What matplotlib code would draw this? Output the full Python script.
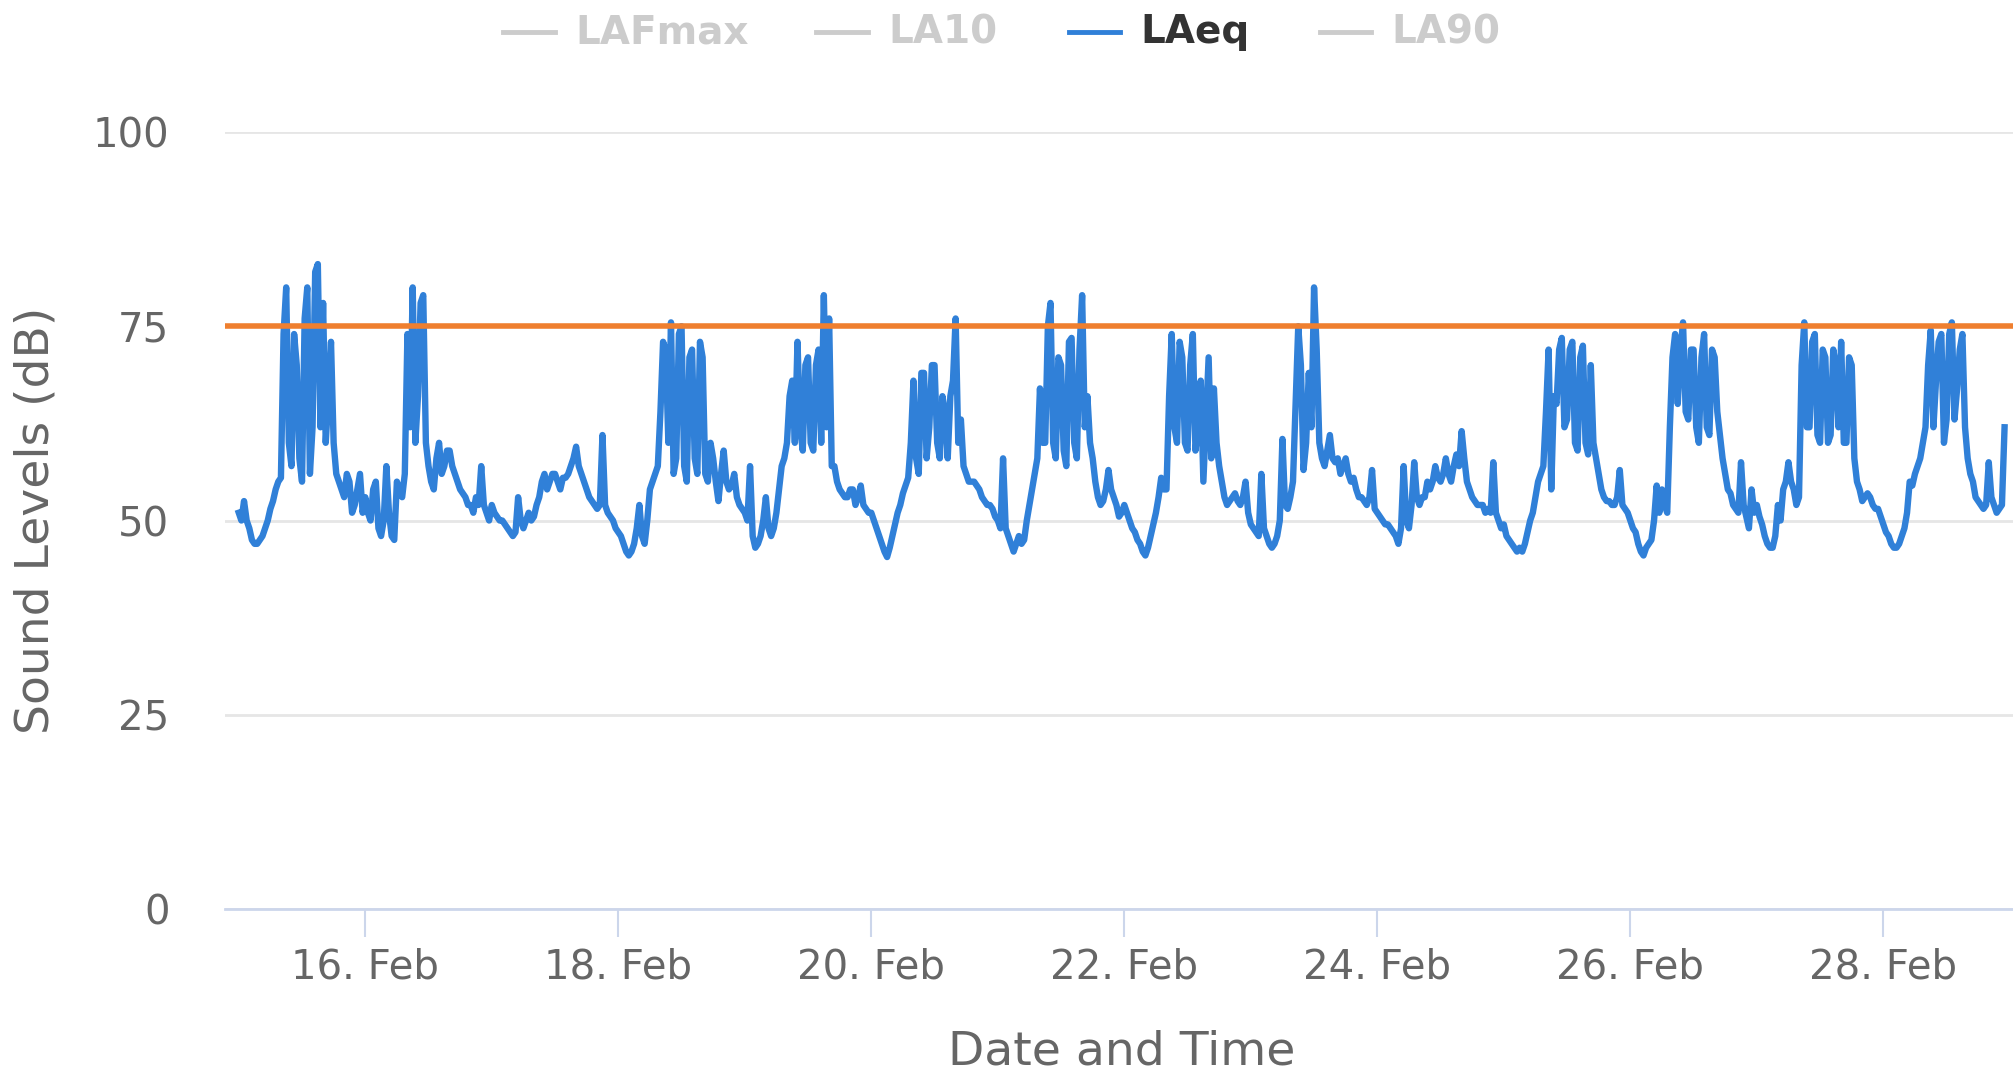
import matplotlib
matplotlib.use("Agg")
import matplotlib.pyplot as plt
import matplotlib.dates as mdates
from matplotlib.lines import Line2D
import pandas as pd

# LAeq values (dB), per day: on the hour and at half past
feb15 = [51, 52.5, 49, 47, 47.5, 49, 51.5, 54, 55.5, 80, 57, 70, 55, 80, 62, 83, 78, 66, 60, 55, 53, 55, 52, 56]
feb15_30 = [50, 50, 47.5, 47, 48, 50, 52.5, 55, 74, 60, 74, 58, 76, 56, 82, 62, 60, 73, 56, 54, 56, 51, 54, 51]
feb16 = [53, 50, 55, 48, 57, 48, 55, 53, 74, 80, 66, 79, 57, 54, 60, 57, 59, 56, 54, 53, 52, 53, 57, 51]
feb16_30 = [51, 54, 49, 50, 51, 47.5, 54, 56, 62, 60, 78, 60, 55, 58, 56, 59, 57, 55, 53.5, 52, 51, 52, 52, 50]
feb17 = [52, 50.5, 50, 49, 48, 53, 49, 51, 50.5, 53, 56, 55, 56, 54, 55.5, 57, 59.5, 56, 54, 52.5, 51.5, 61, 51, 50]
feb17_30 = [51, 50, 49.5, 48.5, 48.5, 50, 50, 50, 52, 55, 54, 56, 55, 55.5, 56, 58, 57, 55, 53, 52, 52, 52, 50.5, 49]
feb18 = [48.5, 47, 45.5, 47, 52, 47, 54, 56, 64, 72, 75.5, 58, 75, 55, 72, 56, 71, 55, 58, 52.5, 59, 54, 56, 52]
feb18_30 = [48, 46, 46, 49, 48, 50, 55, 57, 73, 60, 56, 74, 57, 71, 58, 73, 56, 60, 55, 56, 55, 54.5, 53, 51.5]
feb19 = [51, 57, 46.5, 48, 53, 48, 51, 57, 60, 68, 73, 59, 71, 59, 72, 79, 76, 57, 54, 53, 54, 52, 54.5, 51.5]
feb19_30 = [50, 48, 47, 50, 49, 49, 54, 58, 66, 60, 62, 70, 60, 70, 60, 62, 57, 55, 53.5, 53, 54, 53, 52, 51]
feb20 = [51, 49, 47, 45.3, 48, 51, 53.5, 55.5, 68, 56, 69, 62, 70, 58, 64, 66, 76, 63, 56, 55, 54.5, 53, 52, 51.5]
feb20_30 = [50, 48, 46, 46.5, 49.5, 52, 54.5, 60, 58, 69, 58, 70, 60, 66, 58, 68, 60, 57, 55, 55, 54, 52.5, 52, 50.5]
feb21 = [50, 58, 48, 46, 48, 47.5, 52, 56, 67, 60, 78, 58, 70, 57, 73.5, 58, 79, 66, 58, 53, 52.5, 56.5, 53, 50.5]
feb21_30 = [49, 49, 47, 47, 47, 50, 54, 58, 60, 75, 60, 71, 59, 73, 60, 72, 62, 60, 55, 52, 54, 54, 52, 51]
feb22 = [52, 50, 48.5, 47, 45.5, 48, 51, 55.5, 54, 74, 60, 71, 59, 74, 62, 55, 71, 67, 57, 53, 52.5, 53.5, 52, 55]
feb22_30 = [51, 49, 47.5, 46, 46.5, 49.5, 53, 54, 66, 62, 73, 60, 70, 59, 68, 63, 58, 60, 55, 52, 53, 52.5, 53, 51]
feb23 = [49.5, 48.5, 56, 48, 46.5, 48, 60.5, 51.5, 55, 75, 56.5, 69, 80, 60, 57, 61, 57.5, 56, 58, 55, 54, 53, 52, 56.5]
feb23_30 = [49, 48, 49, 47, 47, 50, 52, 53, 65, 70, 60, 62, 72, 58, 59, 58, 58, 57, 56, 55.5, 53, 52.5, 53, 51.5]
feb24 = [51, 50, 49.5, 48.5, 47, 57, 49, 57.5, 52, 53, 54, 57, 55, 58, 55, 58.5, 61.5, 55, 53, 52, 52, 51.5, 57.5, 50]
feb24_30 = [50.5, 49.5, 49, 48, 49, 50, 52, 53, 53, 55, 55, 55.5, 56, 56, 57, 57, 58, 54, 52.5, 52, 51, 51, 51, 49]
feb25 = [49.5, 47.5, 46.5, 46.5, 47, 50, 53, 56, 64, 54, 65, 73.5, 63, 73, 59, 72.5, 58.5, 60, 56, 53, 52.5, 52, 56.5, 51.5]
feb25_30 = [48, 47, 46, 46, 48.5, 51, 55, 57, 72, 66, 72, 62, 72, 60, 71, 60, 70, 58, 54, 52.5, 52, 53, 52, 51]
feb26 = [50, 48.5, 46, 46.5, 47.5, 54.5, 54, 51, 71, 65, 75.5, 63, 72, 60, 74, 61, 71, 61, 56, 53.5, 51.5, 57.5, 50.5, 54]
feb26_30 = [49, 47, 45.5, 47, 50, 51, 52, 62, 74, 72, 64, 72, 62, 71, 62, 72, 64, 58, 54, 52, 51, 52, 49, 51]
feb27 = [52, 49.5, 47, 46.5, 52, 54, 57.5, 54, 53, 75.5, 62, 74, 60, 71, 61, 70, 73, 60, 70, 55, 52.5, 53.5, 52, 51.5]
feb27_30 = [50.5, 48, 46.5, 48, 50, 55, 55, 52, 70, 62, 73, 61, 72, 60, 72, 62, 60, 71, 58, 54, 53, 53, 51.5, 50.5]
feb28 = [49.5, 48, 46.5, 47, 49, 55, 56, 58, 62, 74.5, 68, 74, 63, 75.5, 67, 74, 58, 55, 52.5, 51.5, 57.5, 52, 51.5, 62]
feb28_30 = [48.5, 47, 46.5, 48, 51, 54.5, 57, 60, 70, 62, 73, 60, 74, 63, 72, 62, 56, 53, 52, 52, 53, 51, 52]

limit_db = 75
legend_names = ["LAFmax", "LA10", "LAeq", "LA90"]
tick_days = ["2024-02-16", "2024-02-18", "2024-02-20", "2024-02-22",
             "2024-02-24", "2024-02-26", "2024-02-28"]

on_hour = (feb15 + feb16 + feb17 + feb18 + feb19 + feb20 + feb21 + feb22
           + feb23 + feb24 + feb25 + feb26 + feb27 + feb28)
half_past = (feb15_30 + feb16_30 + feb17_30 + feb18_30 + feb19_30 + feb20_30 + feb21_30
             + feb22_30 + feb23_30 + feb24_30 + feb25_30 + feb26_30 + feb27_30 + feb28_30)

t_hour = pd.date_range("2024-02-15 00:00", periods=len(on_hour), freq="h")
t_half = pd.date_range("2024-02-15 00:30", periods=len(half_past), freq="h")
laeq = pd.concat([pd.Series(on_hour, index=t_hour),
                  pd.Series(half_past, index=t_half)]).sort_index()

plt.rcParams["font.family"] = "DejaVu Sans"

fig = plt.figure(figsize=(20.13, 10.74), dpi=100)
ax = fig.add_axes([0.1118, 0.1536, 0.8882, 0.7235])

blue = "#3080d8"
orange = "#ef7f2f"

ax.plot(laeq.index, laeq.values, color=blue, linewidth=4.6, solid_joinstyle="round", zorder=3)
ax.axhline(limit_db, color=orange, linewidth=4.0, zorder=4)

ax.set_ylim(0, 100)
ax.set_xlim(pd.Timestamp("2024-02-14 21:24"), pd.Timestamp("2024-02-29 00:36"))
ax.set_yticks([0, 25, 50, 75, 100])
ax.set_xticks(pd.to_datetime(tick_days))
ax.xaxis.set_major_formatter(mdates.DateFormatter("%d. %b"))

ax.grid(axis="y", color="#e6e6e6", linewidth=2)
ax.set_axisbelow(True)
for s in ["top", "right", "left"]:
    ax.spines[s].set_visible(False)
ax.spines["bottom"].set_color("#ccd6eb")
ax.spines["bottom"].set_linewidth(2)

ax.tick_params(axis="y", length=0, labelsize=29, labelcolor="#666666", pad=40)
ax.tick_params(axis="x", length=20, width=1.5, color="#ccd6eb", labelsize=29,
               labelcolor="#666666", pad=8)

ax.set_ylabel("Sound Levels (dB)", fontsize=34, color="#666666")
ax.yaxis.set_label_coords(-0.0934, 0.5)
fig.text(0.5574, 0.0085, "Date and Time", fontsize=34, color="#666666",
         ha="center", va="baseline")

# legend row at the top (hidden series drawn in grey)
legend_x = [0.250, 0.4056, 0.531, 0.6556]
for name, x in zip(legend_names, legend_x):
    active = name == "LAeq"
    fig.add_artist(Line2D([x, x + 0.0255], [0.970, 0.970], transform=fig.transFigure,
                          color=blue if active else "#cccccc", linewidth=3.5))
    fig.text(x + 0.0357, 0.970, name, fontsize=28, fontweight="bold",
             color="#333333" if active else "#cccccc", va="center", ha="left")

fig.savefig("out.png", dpi=100)
